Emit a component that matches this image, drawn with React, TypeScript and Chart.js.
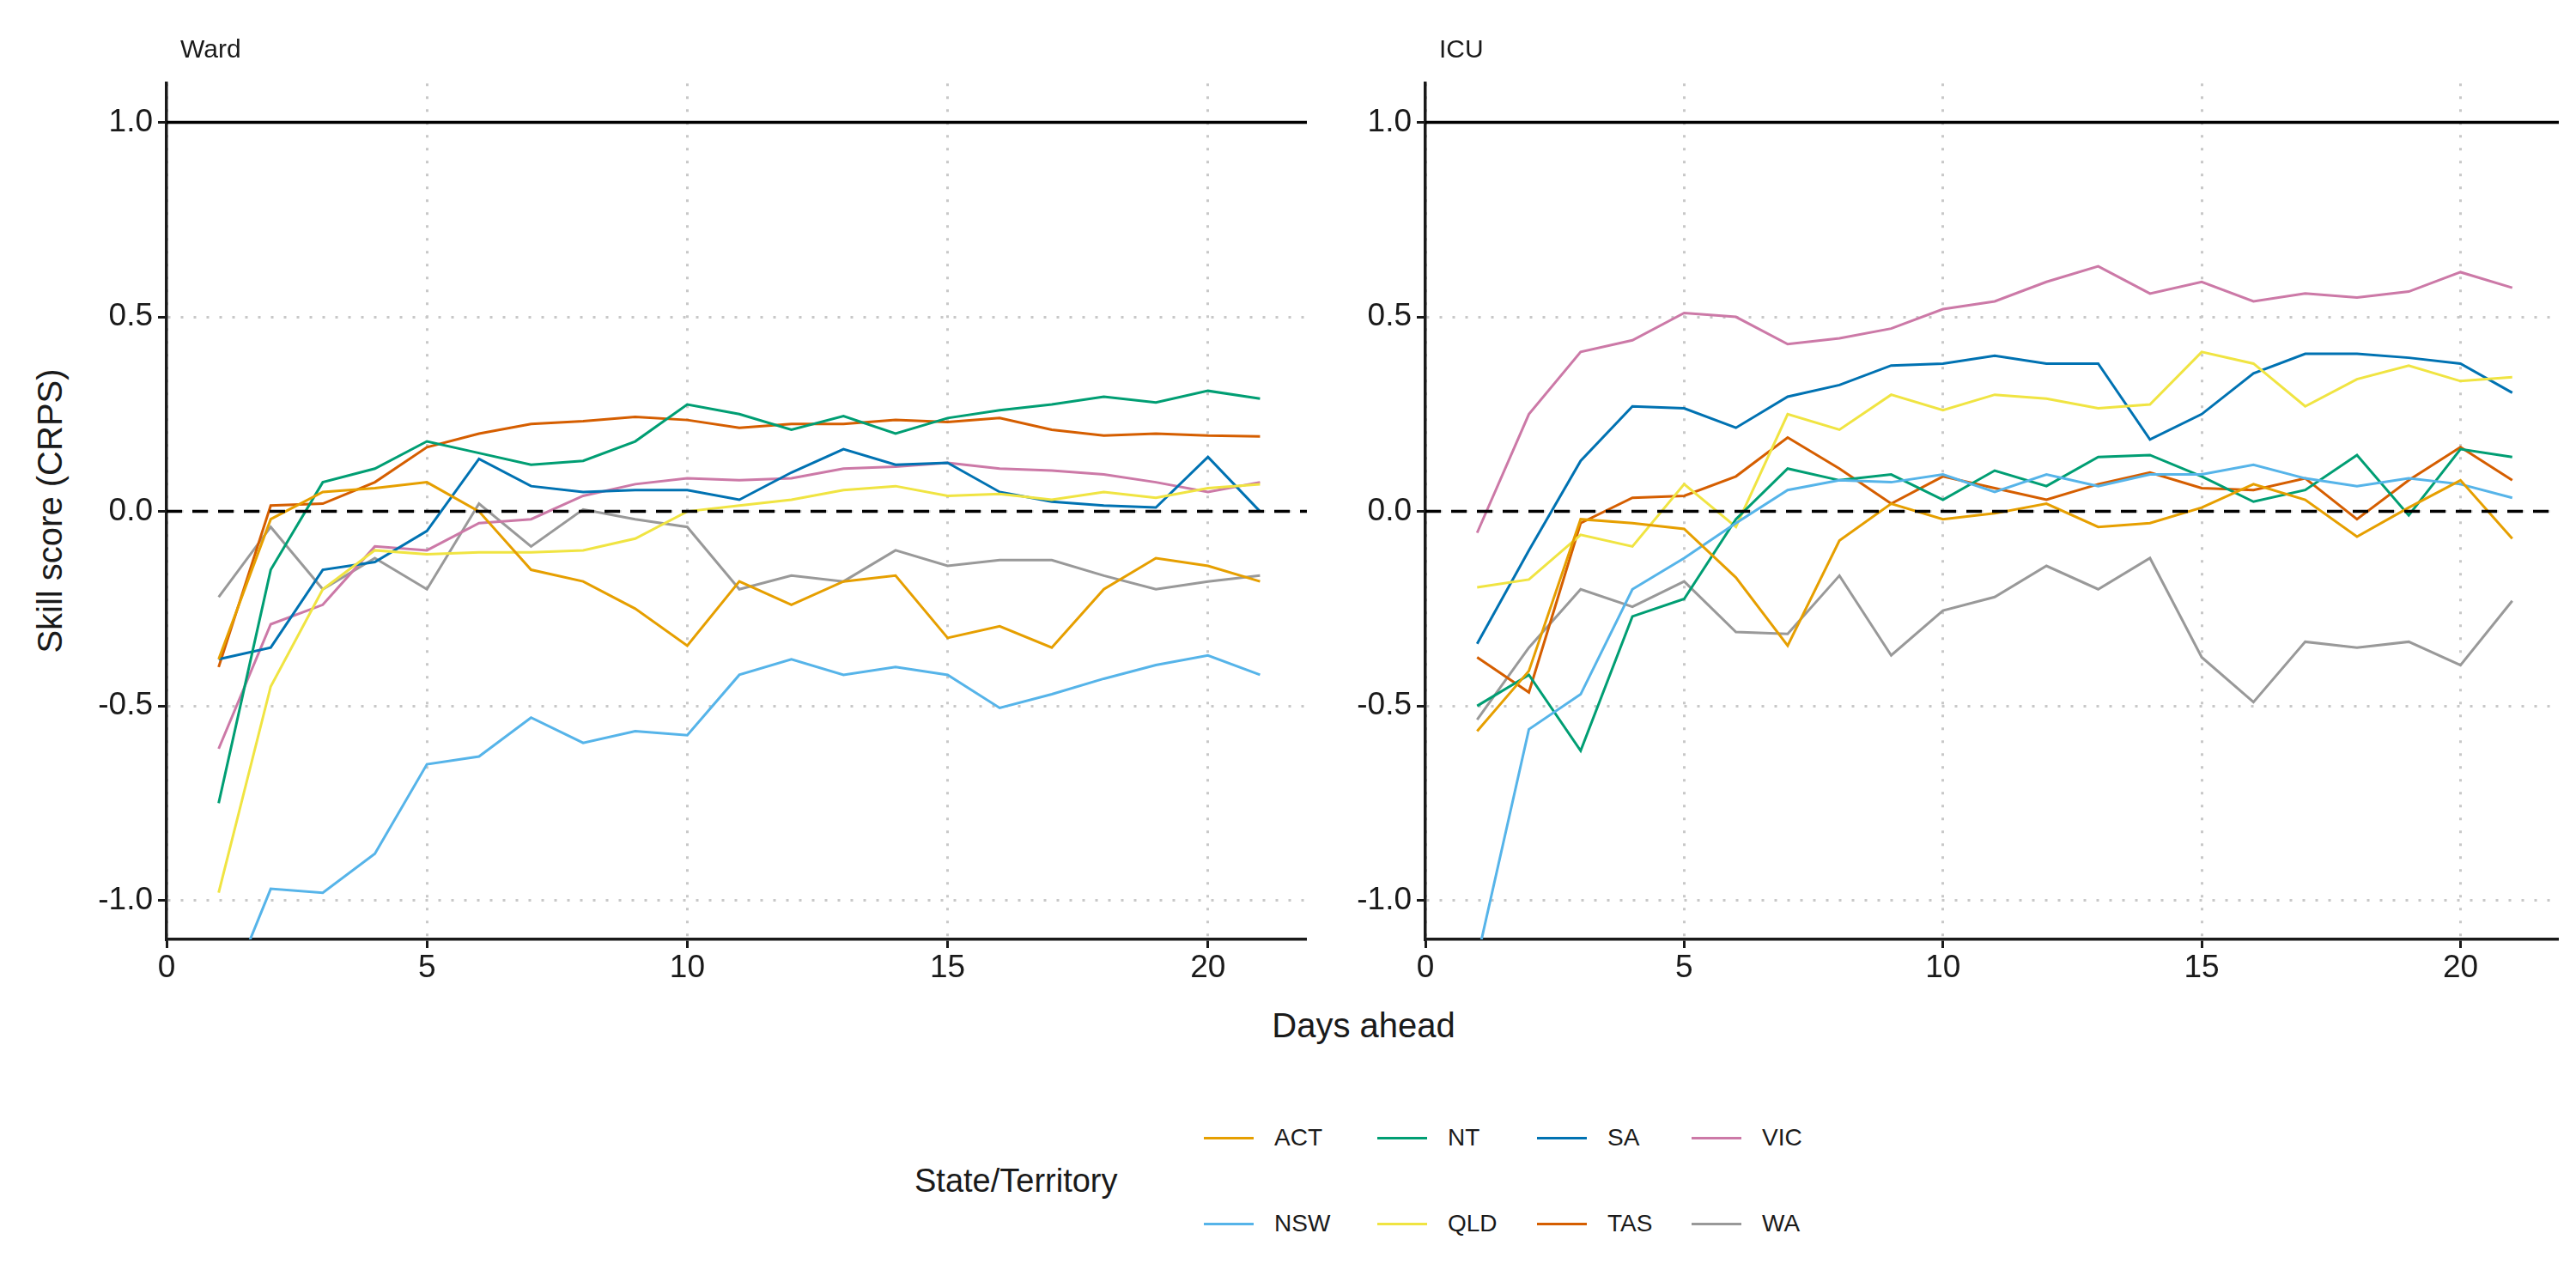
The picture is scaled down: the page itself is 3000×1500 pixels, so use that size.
import { useEffect, useRef } from 'react'
import { Chart, registerables } from 'chart.js'

Chart.register(...registerables)

const DAYS = Array.from({ length: 21 }, (_, i) => i + 1)
const STATES = ['ACT', 'NSW', 'NT', 'QLD', 'SA', 'TAS', 'VIC', 'WA']
const COLORS = ['#E69F00', '#56B4E9', '#009E73', '#F0E442', '#0072B2', '#D55E00', '#CC79A7', '#999999']
const X_TICKS = [0, 5, 10, 15, 20]
const Y_TICKS = [-1, -0.5, 0, 0.5, 1]

const WARD_ACT = [-0.38, -0.02, 0.05, 0.06, 0.075, 0.0, -0.15, -0.18, -0.25, -0.345, -0.18, -0.24, -0.18, -0.165, -0.325, -0.295, -0.35, -0.2, -0.12, -0.14, -0.18]
const WARD_NSW = [-1.3, -0.97, -0.98, -0.88, -0.65, -0.63, -0.53, -0.595, -0.565, -0.575, -0.42, -0.38, -0.42, -0.4, -0.42, -0.505, -0.47, -0.43, -0.395, -0.37, -0.42]
const WARD_NT = [-0.75, -0.15, 0.075, 0.11, 0.18, 0.15, 0.12, 0.13, 0.18, 0.275, 0.25, 0.21, 0.245, 0.2, 0.24, 0.26, 0.275, 0.295, 0.28, 0.31, 0.29]
const WARD_QLD = [-0.98, -0.45, -0.2, -0.1, -0.11, -0.105, -0.105, -0.1, -0.07, 0.0, 0.015, 0.03, 0.055, 0.065, 0.04, 0.045, 0.03, 0.05, 0.035, 0.06, 0.07]
const WARD_SA = [-0.38, -0.35, -0.15, -0.13, -0.05, 0.135, 0.065, 0.05, 0.055, 0.055, 0.03, 0.1, 0.16, 0.12, 0.125, 0.05, 0.025, 0.015, 0.01, 0.14, 0.0]
const WARD_TAS = [-0.4, 0.015, 0.02, 0.075, 0.165, 0.2, 0.225, 0.232, 0.243, 0.235, 0.215, 0.225, 0.225, 0.235, 0.23, 0.24, 0.21, 0.195, 0.2, 0.195, 0.193]
const WARD_VIC = [-0.61, -0.29, -0.24, -0.09, -0.1, -0.03, -0.02, 0.04, 0.07, 0.085, 0.08, 0.085, 0.11, 0.115, 0.125, 0.11, 0.105, 0.095, 0.075, 0.05, 0.075]
const WARD_WA = [-0.22, -0.04, -0.2, -0.12, -0.2, 0.02, -0.09, 0.005, -0.02, -0.04, -0.2, -0.165, -0.18, -0.1, -0.14, -0.125, -0.125, -0.165, -0.2, -0.18, -0.165]

const ICU_ACT = [-0.565, -0.41, -0.02, -0.03, -0.045, -0.17, -0.345, -0.075, 0.02, -0.02, -0.005, 0.02, -0.04, -0.03, 0.01, 0.07, 0.03, -0.065, 0.01, 0.08, -0.07]
const ICU_NSW = [-1.15, -0.56, -0.47, -0.2, -0.12, -0.03, 0.055, 0.08, 0.075, 0.095, 0.05, 0.095, 0.065, 0.095, 0.095, 0.12, 0.085, 0.065, 0.085, 0.07, 0.035]
const ICU_NT = [-0.5, -0.42, -0.615, -0.27, -0.225, -0.02, 0.11, 0.08, 0.095, 0.03, 0.105, 0.065, 0.14, 0.145, 0.09, 0.025, 0.055, 0.145, -0.01, 0.16, 0.14]
const ICU_QLD = [-0.195, -0.175, -0.06, -0.09, 0.07, -0.04, 0.25, 0.21, 0.3, 0.26, 0.3, 0.29, 0.265, 0.275, 0.41, 0.38, 0.27, 0.34, 0.375, 0.335, 0.345]
const ICU_SA = [-0.34, -0.1, 0.13, 0.27, 0.265, 0.215, 0.295, 0.325, 0.375, 0.38, 0.4, 0.38, 0.38, 0.185, 0.25, 0.355, 0.405, 0.405, 0.395, 0.38, 0.305]
const ICU_TAS = [-0.375, -0.465, -0.03, 0.035, 0.04, 0.09, 0.19, 0.11, 0.02, 0.09, 0.06, 0.03, 0.07, 0.1, 0.06, 0.055, 0.085, -0.02, 0.08, 0.165, 0.08]
const ICU_VIC = [-0.055, 0.25, 0.41, 0.44, 0.51, 0.5, 0.43, 0.445, 0.47, 0.52, 0.54, 0.59, 0.63, 0.56, 0.59, 0.54, 0.56, 0.55, 0.565, 0.615, 0.575]
const ICU_WA = [-0.535, -0.35, -0.2, -0.245, -0.18, -0.31, -0.315, -0.165, -0.37, -0.255, -0.22, -0.14, -0.2, -0.12, -0.375, -0.49, -0.335, -0.35, -0.335, -0.395, -0.23]

const WARD = [WARD_ACT, WARD_NSW, WARD_NT, WARD_QLD, WARD_SA, WARD_TAS, WARD_VIC, WARD_WA]
const ICU = [ICU_ACT, ICU_NSW, ICU_NT, ICU_QLD, ICU_SA, ICU_TAS, ICU_VIC, ICU_WA]

const FONT = 'Liberation Sans, Arial, sans-serif'
const CANVAS_TOP = 69
const CANVAS_BOTTOM = 1150

// reference lines at 1 (solid) and 0 (dashed)
const refLines = {
  id: 'refLines',
  afterDatasetsDraw(chart: any) {
    const { ctx, chartArea, scales } = chart
    ctx.save()
    ctx.strokeStyle = '#000'
    ctx.lineWidth = 3.5
    const y1 = scales.y.getPixelForValue(1)
    ctx.beginPath()
    ctx.moveTo(chartArea.left, y1)
    ctx.lineTo(chartArea.right, y1)
    ctx.stroke()
    const y0 = scales.y.getPixelForValue(0)
    ctx.setLineDash([18, 12])
    ctx.beginPath()
    ctx.moveTo(chartArea.left, y0)
    ctx.lineTo(chartArea.right, y0)
    ctx.stroke()
    ctx.restore()
  },
}

function Panel({ series, left, width, yWidth }: { series: number[][]; left: number; width: number; yWidth: number }) {
  const ref = useRef<HTMLCanvasElement | null>(null)
  useEffect(() => {
    if (!ref.current) return
    const chart = new Chart(ref.current, {
      type: 'line',
      data: {
        datasets: STATES.map((s, i) => ({
          label: s,
          data: DAYS.map((d, j) => ({ x: d, y: series[i][j] })),
          borderColor: COLORS[i],
          borderWidth: 3,
          pointRadius: 0,
          tension: 0,
        })),
      },
      options: {
        animation: false,
        responsive: false,
        layout: { padding: 0 },
        plugins: { legend: { display: false }, tooltip: { enabled: false } },
        scales: {
          x: {
            type: 'linear',
            min: 0,
            max: 21.9,
            afterBuildTicks: (s: any) => { s.ticks = X_TICKS.map((v) => ({ value: v })) },
            afterFit: (s: any) => { s.height = 56 },
            ticks: { color: '#1a1a1a', font: { family: FONT, size: 37 }, padding: 2, maxRotation: 0 },
            grid: { color: '#c8c8c8', lineWidth: 3, tickColor: '#1a1a1a', tickLength: 10, tickBorderDash: [], tickWidth: 3 },
            border: { display: true, color: '#1a1a1a', width: 3.5, dash: [3, 12] },
          },
          y: {
            min: -1.1,
            max: 1.1,
            afterBuildTicks: (s: any) => { s.ticks = Y_TICKS.map((v) => ({ value: v })) },
            afterFit: (s: any) => { s.width = yWidth },
            ticks: { color: '#1a1a1a', font: { family: FONT, size: 37 }, padding: 6, callback: (v: any) => Number(v).toFixed(1) },
            grid: { color: '#c8c8c8', lineWidth: 3, tickColor: '#1a1a1a', tickLength: 10, tickBorderDash: [], tickWidth: 3 },
            border: { display: true, color: '#1a1a1a', width: 3.5, dash: [3, 12] },
          },
        },
      },
      plugins: [refLines],
    } as any)
    return () => chart.destroy()
  }, [series, yWidth])
  return (
    <canvas
      ref={ref}
      width={width}
      height={CANVAS_BOTTOM - CANVAS_TOP}
      style={{ position: 'absolute', left, top: CANVAS_TOP, width, height: CANVAS_BOTTOM - CANVAS_TOP }}
    />
  )
}

const LEGEND_COLS = [1484, 1686, 1872, 2052]

export default function App() {
  return (
    <div style={{ position: 'fixed', left: 0, top: 0, width: 3000, height: 1500, background: '#fff', fontFamily: FONT, color: '#1a1a1a' }}>
      <Panel series={WARD} left={90} width={1432} yWidth={104} />
      <Panel series={ICU} left={1560} width={1420} yWidth={100} />
      <div style={{ position: 'absolute', left: 210, top: 40, fontSize: 30 }}>Ward</div>
      <div style={{ position: 'absolute', left: 1676, top: 40, fontSize: 30 }}>ICU</div>
      <div style={{ position: 'absolute', left: 58, top: 595, fontSize: 40, transform: 'translate(-50%, -50%) rotate(-90deg)', whiteSpace: 'nowrap' }}>
        Skill score (CRPS)
      </div>
      <div style={{ position: 'absolute', left: 1588, top: 1194, fontSize: 40, transform: 'translate(-50%, -50%)', whiteSpace: 'nowrap' }}>
        Days ahead
      </div>
      <div style={{ position: 'absolute', left: 1065, top: 1375, fontSize: 38, transform: 'translateY(-50%)', whiteSpace: 'nowrap' }}>
        State/Territory
      </div>
      {STATES.map((s, i) => {
        const col = Math.floor(i / 2)
        const row = i % 2
        const x = LEGEND_COLS[col]
        const y = row === 0 ? 1325 : 1425
        return (
          <div key={s}>
            <div style={{ position: 'absolute', left: x - 82, top: y - 1.5, width: 58, height: 3, background: COLORS[i] }} />
            <div style={{ position: 'absolute', left: x, top: y, fontSize: 28, transform: 'translateY(-50%)' }}>{s}</div>
          </div>
        )
      })}
    </div>
  )
}
